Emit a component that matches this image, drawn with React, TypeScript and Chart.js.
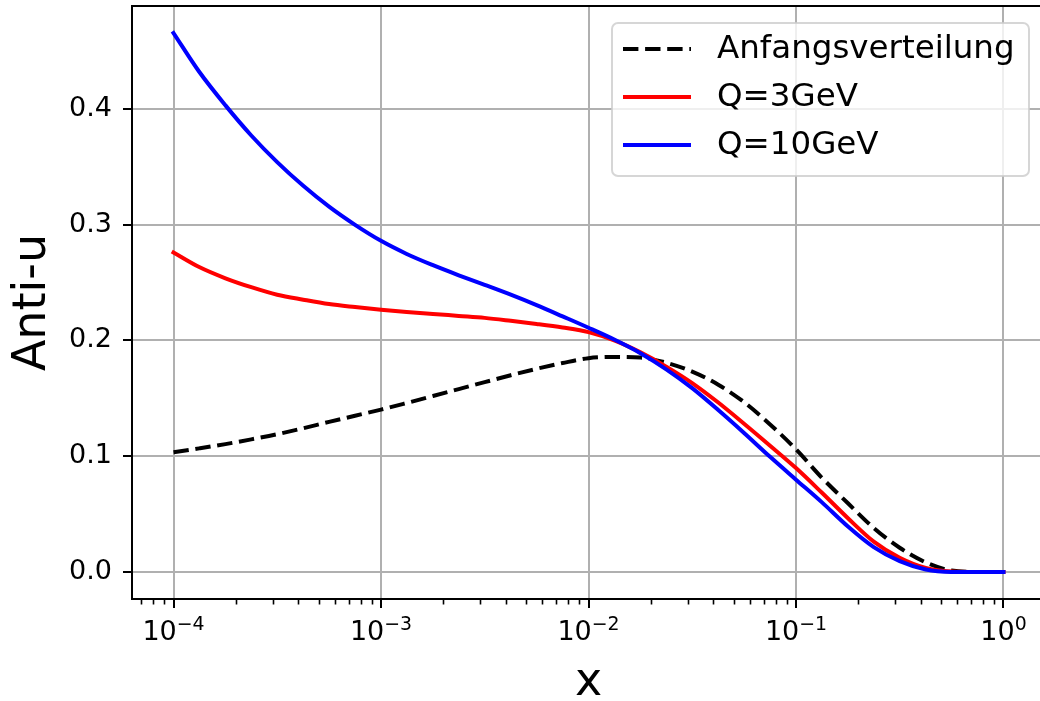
import React, { useEffect, useRef } from 'react';
import { Chart, registerables } from 'chart.js';

Chart.register(...registerables);

// ---- data ----
const X_VALUES = [0.0001, 0.000133, 0.000178, 0.000237, 0.000316, 0.000422, 0.000562, 0.00075, 0.001, 0.00133, 0.00178, 0.00237, 0.00316, 0.00422, 0.00562, 0.0075, 0.01, 0.0133, 0.0178, 0.0237, 0.0316, 0.0422, 0.0562, 0.075, 0.1, 0.133, 0.178, 0.237, 0.316, 0.422, 0.562, 0.75, 1.0];
const ANFANG = [0.1034, 0.1068, 0.1105, 0.1146, 0.119, 0.1242, 0.1297, 0.135, 0.1403, 0.146, 0.152, 0.158, 0.164, 0.170, 0.1755, 0.1805, 0.1847, 0.1858, 0.1852, 0.1808, 0.1731, 0.1618, 0.1467, 0.1275, 0.106, 0.0816, 0.0594, 0.0381, 0.021, 0.0084, 0.0013, 0.0001, 0];
const Q3 = [0.276, 0.2634, 0.2537, 0.246, 0.2395, 0.2352, 0.2314, 0.2288, 0.2265, 0.2246, 0.2229, 0.2212, 0.2195, 0.217, 0.2143, 0.2112, 0.2072, 0.2, 0.1897, 0.1774, 0.1632, 0.1464, 0.1281, 0.1091, 0.0898, 0.0687, 0.0465, 0.0263, 0.0123, 0.0035, 0.0004, 0, 0];
const Q10 = [0.4655, 0.432, 0.403, 0.377, 0.354, 0.3335, 0.3155, 0.2998, 0.286, 0.2747, 0.265, 0.2563, 0.248, 0.2395, 0.2305, 0.2208, 0.211, 0.2008, 0.189, 0.1751, 0.1588, 0.1399, 0.1201, 0.0995, 0.0798, 0.0604, 0.0393, 0.0215, 0.0094, 0.0022, 0.0001, 0, 0];

const SERIES_LABELS = ['Anfangsverteilung', 'Q=3GeV', 'Q=10GeV'];
const SERIES_COLORS = ['#000000', '#ff0000', '#0000ff'];

const X_TICKS = [1e-4, 1e-3, 1e-2, 1e-1, 1];
const X_TICK_BASE = '10';
const X_TICK_EXPONENTS = ['\u22124', '\u22123', '\u22122', '\u22121', '0'];
const X_MINOR_DECADES = [1e-5, 1e-4, 1e-3, 1e-2, 1e-1, 1];
const X_MINOR_MANTISSAS = [2, 3, 4, 5, 6, 7, 8, 9];
const Y_TICKS = [0.0, 0.1, 0.2, 0.3, 0.4];

const X_MIN = Math.pow(10, -4.2);
const X_MAX = Math.pow(10, 0.2);
const Y_MIN = -0.02325;
const Y_MAX = 0.4888;

const FONT = "'DejaVu Sans', 'Liberation Sans', sans-serif";
const TICK_SIZE = 27;
const DASH = [15.4, 6.7];

const decorPlugin = {
  id: 'decor',
  afterDraw(chart: any) {
    const { ctx, chartArea, scales } = chart;
    const xs = scales.x;
    ctx.save();
    // top spine
    ctx.strokeStyle = '#000';
    ctx.lineWidth = 2;
    ctx.beginPath();
    ctx.moveTo(chartArea.left - 1, chartArea.top);
    ctx.lineTo(chartArea.right + 1, chartArea.top);
    ctx.stroke();
    // right spine
    ctx.beginPath();
    ctx.moveTo(chartArea.right, chartArea.top);
    ctx.lineTo(chartArea.right, chartArea.bottom);
    ctx.stroke();
    // minor ticks
    ctx.lineWidth = 1.6;
    for (const d of X_MINOR_DECADES) {
      for (const m of X_MINOR_MANTISSAS) {
        const v = m * d;
        if (v <= xs.min || v >= xs.max) continue;
        const px = Math.round(xs.getPixelForValue(v)) + 0.5;
        ctx.beginPath();
        ctx.moveTo(px, chartArea.bottom);
        ctx.lineTo(px, chartArea.bottom + 5.5);
        ctx.stroke();
      }
    }
    // x tick labels as 10^k (base + raised exponent)
    ctx.fillStyle = '#000';
    ctx.textBaseline = 'alphabetic';
    ctx.textAlign = 'left';
    const baseFont = `${TICK_SIZE}px ${FONT}`;
    const expFont = `${(TICK_SIZE * 0.7).toFixed(1)}px ${FONT}`;
    X_TICKS.forEach((v, i) => {
      const px = xs.getPixelForValue(v);
      ctx.font = baseFont;
      const wb = ctx.measureText(X_TICK_BASE).width;
      ctx.font = expFont;
      const we = ctx.measureText(X_TICK_EXPONENTS[i]).width;
      const x0 = px - (wb + we) / 2;
      ctx.font = baseFont;
      ctx.fillText(X_TICK_BASE, x0, chartArea.bottom + 41);
      ctx.font = expFont;
      ctx.fillText(X_TICK_EXPONENTS[i], x0 + wb, chartArea.bottom + 31);
    });
    // legend
    const fw = 417;
    const fh = 153;
    const fx = chartArea.right - 16 - fw;
    const fy = chartArea.top + 17;
    ctx.beginPath();
    (ctx as any).roundRect(fx, fy, fw, fh, 6);
    ctx.fillStyle = 'rgba(255,255,255,0.8)';
    ctx.fill();
    ctx.strokeStyle = 'rgba(204,204,204,0.8)';
    ctx.lineWidth = 2;
    ctx.stroke();
    ctx.font = `32.5px ${FONT}`;
    ctx.textBaseline = 'middle';
    ctx.textAlign = 'left';
    SERIES_LABELS.forEach((label, i) => {
      const cy = fy + 26 + i * 48;
      ctx.strokeStyle = SERIES_COLORS[i];
      ctx.lineWidth = 4;
      ctx.setLineDash(i === 0 ? DASH : []);
      ctx.lineCap = 'butt';
      ctx.beginPath();
      ctx.moveTo(fx + 11, cy);
      ctx.lineTo(fx + 79, cy);
      ctx.stroke();
      ctx.setLineDash([]);
      ctx.fillStyle = '#000';
      ctx.fillText(label, fx + 105, cy + 1);
    });
    ctx.restore();
  },
};

export default function App() {
  const ref = useRef<HTMLCanvasElement | null>(null);
  useEffect(() => {
    if (!ref.current) return;
    Chart.defaults.font.family = FONT;
    const mk = (ys: number[]) => X_VALUES.map((x, i) => ({ x, y: ys[i] }));
    const common = {
      borderWidth: 4,
      pointRadius: 0,
      cubicInterpolationMode: 'monotone',
      fill: false,
    };
    const chart = new Chart(ref.current, {
      type: 'line',
      data: {
        datasets: [
          { ...common, label: SERIES_LABELS[0], data: mk(ANFANG), borderColor: SERIES_COLORS[0], borderDash: DASH, order: 2 },
          { ...common, label: SERIES_LABELS[1], data: mk(Q3), borderColor: SERIES_COLORS[1], borderCapStyle: 'square', borderJoinStyle: 'round', order: 1 },
          { ...common, label: SERIES_LABELS[2], data: mk(Q10), borderColor: SERIES_COLORS[2], borderCapStyle: 'square', borderJoinStyle: 'round', order: 0 },
        ],
      },
      options: {
        responsive: false,
        animation: false,
        devicePixelRatio: 1,
        layout: { padding: { top: 6, right: 1, left: 0, bottom: 0 } },
        plugins: { legend: { display: false }, tooltip: { enabled: false } },
        scales: {
          x: {
            type: 'logarithmic',
            min: X_MIN,
            max: X_MAX,
            bounds: 'data',
            afterBuildTicks: (s: any) => {
              s.ticks = X_TICKS.map((v) => ({ value: v, major: true }));
            },
            afterFit: (s: any) => {
              s.height = 102;
              s.paddingLeft = 0;
              s.paddingRight = 0;
            },
            ticks: {
              autoSkip: false,
              maxRotation: 0,
              minRotation: 0,
              color: '#000',
              padding: 8,
              font: { size: TICK_SIZE, family: FONT },
              callback: () => '',
            },
            grid: { color: '#b0b0b0', lineWidth: 2, tickLength: 9, tickColor: '#000', tickWidth: 2 },
            border: { color: '#000', width: 2 },
            title: { display: true, text: 'x', color: '#000', font: { size: 46, family: FONT, lineHeight: 0.76 }, padding: { top: 0, bottom: 0 } },
          },
          y: {
            type: 'linear',
            min: Y_MIN,
            max: Y_MAX,
            bounds: 'data',
            afterBuildTicks: (s: any) => {
              s.ticks = Y_TICKS.map((v) => ({ value: v }));
            },
            afterFit: (s: any) => {
              s.width = 132;
              s.paddingTop = 0;
              s.paddingBottom = 0;
            },
            ticks: {
              color: '#000',
              padding: 11,
              font: { size: TICK_SIZE, family: FONT },
              callback: (v: any) => Number(v).toFixed(1),
            },
            grid: { color: '#b0b0b0', lineWidth: 2, tickLength: 9, tickColor: '#000', tickWidth: 2 },
            border: { color: '#000', width: 2 },
            title: { display: true, text: 'Anti-u', color: '#000', font: { size: 46, family: FONT, lineHeight: 1 }, padding: { top: 10, bottom: 0 } },
          },
        },
      },
      plugins: [decorPlugin],
    } as any);
    return () => chart.destroy();
  }, []);
  return (
    <div style={{ position: 'absolute', left: 0, top: 0, width: 1040, height: 701, overflow: 'hidden', background: '#fff' }}>
      <canvas ref={ref} width={1046} height={701} style={{ display: 'block', width: 1046, height: 701 }} />
    </div>
  );
}
